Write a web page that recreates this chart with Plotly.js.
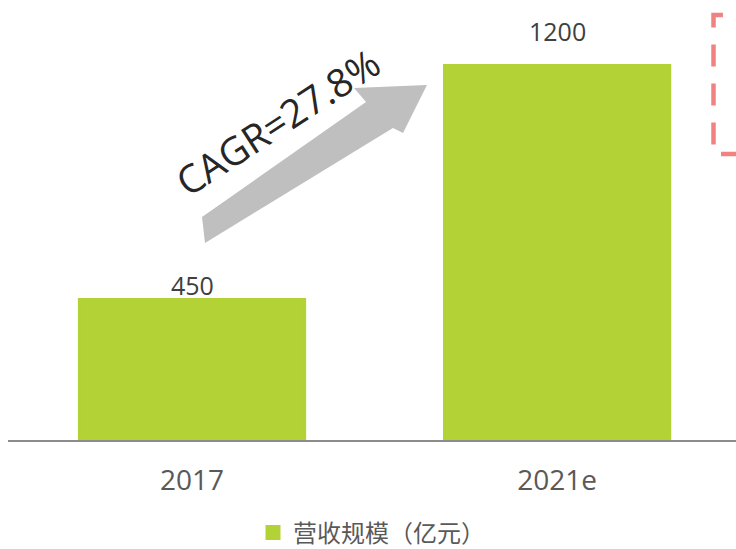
<!DOCTYPE html>
<html>
<head>
<meta charset="utf-8">
<script src="https://cdn.plot.ly/plotly-3.0.1.min.js"></script>
<style>
  html, body { margin: 0; padding: 0; background: #ffffff; }
  #chart { width: 736px; height: 549px; }
</style>
</head>
<body>
<div id="chart"></div>
<script>
// ---- data ----
const categories = ['2017', '2021e'];
const revenue = [450, 1200];
const seriesName = '营收规模（亿元）';
const cagrLabel = 'CAGR=27.8%';

// ---- geometry helpers (decorations only; pixel -> paper) ----
const W = 736, H = 549;
const M = { l: 8, r: 0, t: 0, b: 109, autoexpand: false };
const PW = W - M.l - M.r, PH = H - M.t - M.b;
const px = x => (x - M.l) / PW;
const py = y => (M.t + PH - y) / PH;
const pathOf = pts => pts.map((p, i) => (i ? 'L' : 'M') + px(p[0]).toFixed(4) + ',' + py(p[1]).toFixed(4)).join(' ');

const arrowPts = [[202, 217], [366, 102], [354, 88], [427, 85], [403, 133], [393, 128], [205, 243]];
const bracketPts = [[723, 15], [713.5, 15], [713.5, 154], [740, 154]];
const labelLift = [-4, 16];   // per-label vertical nudge in px (style)

const barColor = '#b2d235';
const trace = {
  type: 'bar',
  name: seriesName,
  x: categories,
  y: revenue,
  width: 0.617,
  marker: { color: barColor, line: { color: barColor, width: 3 } },
  hoverinfo: 'x+y',
  showlegend: true
};

// value labels: x is the category index on the category axis
const valueLabels = categories.map((c, i) => ({
  xref: 'x', yref: 'y',
  x: categories.indexOf(c), y: revenue[i],
  xanchor: 'center', yanchor: 'bottom',
  yshift: labelLift[i],
  text: String(revenue[i]),
  showarrow: false,
  font: { family: 'Open Sans, sans-serif', size: 25, color: '#404040' }
}));

const layout = {
  width: W, height: H,
  margin: M,
  paper_bgcolor: '#ffffff',
  plot_bgcolor: '#ffffff',
  font: { family: 'Open Sans, Noto Sans CJK SC, sans-serif', color: '#595959' },
  showlegend: true,
  xaxis: {
    type: 'category',
    range: [-0.504, 1.49],
    showline: true,
    linecolor: '#8c8c8c',
    linewidth: 1.5,
    ticks: '',
    showgrid: false,
    zeroline: false,
    automargin: false,
    ticklabelstandoff: 15,
    tickfont: { family: 'Open Sans, sans-serif', size: 28, color: '#595959' }
  },
  yaxis: {
    range: [0, 1410],
    visible: false,
    showgrid: false,
    zeroline: false,
    fixedrange: true
  },
  legend: {
    orientation: 'h',
    x: px(253), xanchor: 'left',
    y: py(533), yanchor: 'middle',
    bgcolor: 'rgba(0,0,0,0)',
    font: { family: 'Noto Sans CJK SC, sans-serif', size: 24, color: '#595959' }
  },
  shapes: [
    {
      type: 'path', xref: 'paper', yref: 'paper',
      path: pathOf(arrowPts) + ' Z',
      fillcolor: '#bfbfbf',
      line: { width: 0 },
      layer: 'above'
    },
    {
      type: 'path', xref: 'paper', yref: 'paper',
      path: pathOf(bracketPts),
      line: { color: '#f08282', width: 4.5, dash: '22px,17px' },
      fillcolor: 'rgba(0,0,0,0)',
      layer: 'above'
    }
  ],
  annotations: valueLabels.concat([
    {
      xref: 'paper', yref: 'paper',
      x: px(277), y: py(122),
      xanchor: 'center', yanchor: 'middle',
      text: cagrLabel,
      showarrow: false,
      textangle: -33,
      font: { family: 'Open Sans, sans-serif', size: 39, color: '#262626' }
    }
  ])
};

Plotly.newPlot('chart', [trace], layout, { displayModeBar: false, staticPlot: true });
</script>
</body>
</html>
